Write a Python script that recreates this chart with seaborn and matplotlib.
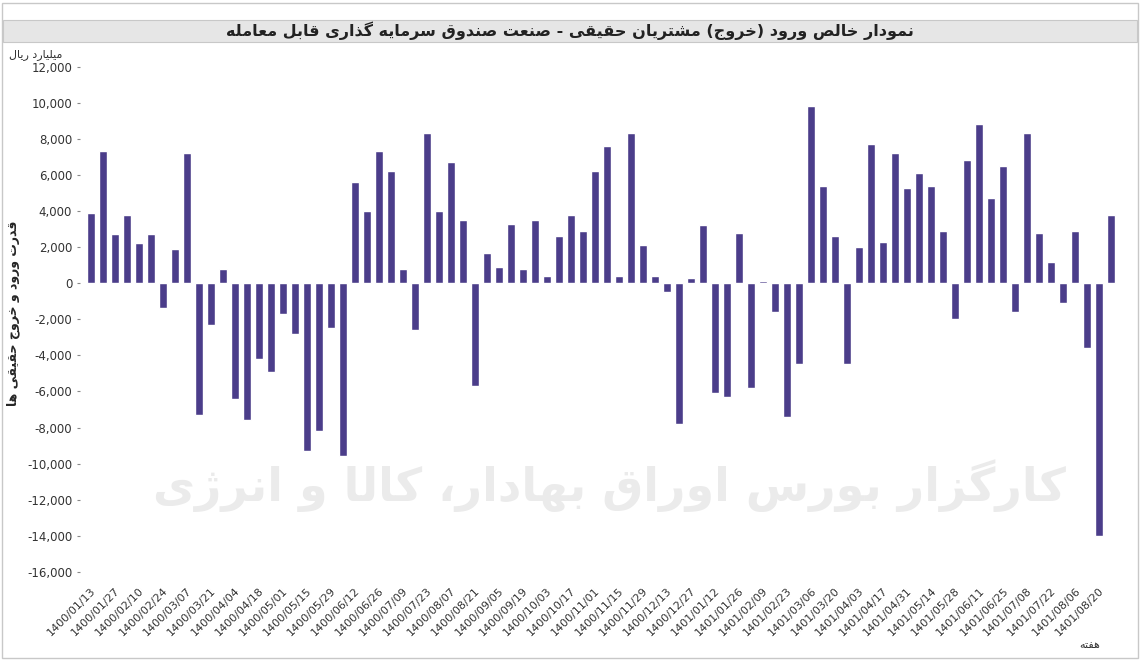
import unicodedata
import pandas as pd
import seaborn as sns
from matplotlib import pyplot as plt
from matplotlib.patches import Rectangle

values = [3900, 7300, 2700, 3800, 2200, 2700, -1400, 1900, 7200, -7300,
          -2300, 800, -6400, -7600, -4200, -4900, -1700, -2800, -9300, -8200,
          -2500, -9600, 5600, 4000, 7300, 6200, 800, -2600, 8300, 4000,
          6700, 3500, -5700, 1700, 900, 3300, 800, 3500, 400, 2600,
          3800, 2900, 6200, 7600, 400, 8300, 2100, 400, -500, -7800,
          300, 3200, -6100, -6300, 2800, -5800, 100, -1600, -7400, -4500,
          9800, 5400, 2600, -4500, 2000, 7700, 2300, 7200, 5300, 6100,
          5400, 2900, -2000, 6800, 8800, 4700, 6500, -1600, 8300, 2800,
          1200, -1100, 2900, -3600, -14000, 3800]
tick_labels = ['1400/01/13', '1400/01/27', '1400/02/10', '1400/02/24', '1400/03/07',
               '1400/03/21', '1400/04/04', '1400/04/18', '1400/05/01', '1400/05/15',
               '1400/05/29', '1400/06/12', '1400/06/26', '1400/07/09', '1400/07/23',
               '1400/08/07', '1400/08/21', '1400/09/05', '1400/09/19', '1400/10/03',
               '1400/10/17', '1400/11/01', '1400/11/15', '1400/11/29', '1400/12/13',
               '1400/12/27', '1401/01/12', '1401/01/26', '1401/02/09', '1401/02/23',
               '1401/03/06', '1401/03/20', '1401/04/03', '1401/04/17', '1401/04/31',
               '1401/05/14', '1401/05/28', '1401/06/11', '1401/06/25', '1401/07/08',
               '1401/07/22', '1401/08/06', '1401/08/20']
yticks = list(range(-16000, 12001, 2000))

# minimal arabic shaping, since matplotlib does not join letters
FORMS = {}
for rng in (range(0xFB50, 0xFE00), range(0xFE70, 0xFF00)):
    for cp in rng:
        d = unicodedata.decomposition(chr(cp)).split()
        if len(d) == 2 and d[0] in ('<isolated>', '<initial>', '<medial>', '<final>'):
            FORMS.setdefault(chr(int(d[1], 16)), {})[d[0][1:-1]] = chr(cp)
RIGHT_ONLY = set('اآأإدذرزژوؤة')


def shape(text):
    out = []
    for i, ch in enumerate(text):
        if ch not in FORMS:
            out.append(ch)
            continue
        prev = text[i - 1] if i > 0 else ''
        nxt = text[i + 1] if i + 1 < len(text) else ''
        jp = prev in FORMS and prev not in RIGHT_ONLY
        jn = nxt in FORMS and ch not in RIGHT_ONLY
        f = FORMS[ch]
        key = 'medial' if jp and jn else 'final' if jp else 'initial' if jn else 'isolated'
        out.append(f.get(key) or f.get('isolated') or ch)
    mirror = {'(': ')', ')': '('}
    return ''.join(mirror.get(c, c) for c in reversed(out))


df = pd.DataFrame({'week': range(len(values)), 'value': values})

sns.set_style('white')
plt.rcParams['font.family'] = ['DejaVu Sans', 'Noto Sans']

fig = plt.figure(figsize=(11.4, 6.61), dpi=100)
fig.patch.set_facecolor('white')
ax = fig.add_axes([0.07, 0.121, 0.911, 0.811])
ax.set_facecolor('none')

# header bar and frame
fig.add_artist(Rectangle((0.003, 0.937), 0.994, 0.033, transform=fig.transFigure,
                         facecolor='#e6e6e6', edgecolor='#c8c8c8', lw=0.8))
fig.add_artist(Rectangle((0.002, 0.005), 0.996, 0.99, transform=fig.transFigure,
                         facecolor='none', edgecolor='#c8c8c8', lw=1))
fig.text(0.5, 0.953, shape('نمودار خالص ورود (خروج) مشتریان حقیقی - صنعت صندوق سرمایه گذاری قابل معامله'),
         ha='center', va='center', fontsize=11.5, fontweight='bold', color='#222222')

# watermark
fig.text(0.535, 0.265, shape('کارگزار بورس اوراق بهادار، کالا و انرژی'), ha='center', va='center',
         fontsize=33, fontweight='bold', color='#ebebeb', zorder=0)

sns.barplot(data=df, x='week', y='value', color='#4b3d8a', saturation=1,
            width=0.68, ax=ax, zorder=3)

ax.set_ylim(-16500, 13200)
ax.set_xlim(-0.9, len(values) - 0.4)
ax.set_yticks(yticks)
ax.set_yticklabels([f'{v:,}' for v in yticks], fontsize=8.5, color='#333333')
ax.set_xticks(range(0, len(values), 2))
ax.set_xticklabels(tick_labels, rotation=45, ha='right', rotation_mode='anchor',
                   fontsize=8, color='#333333')
ax.tick_params(axis='y', length=2, color='#888888', left=True)
ax.tick_params(axis='x', length=0, pad=3)
for s in ax.spines.values():
    s.set_visible(False)
ax.set_xlabel('')
ax.set_ylabel(shape('قدرت ورود و خروج حقیقی ها'), fontsize=9, fontweight='bold')
ax.yaxis.set_label_coords(-0.058, 0.5)

fig.text(0.008, 0.918, shape('میلیارد ریال'), fontsize=8, color='#333333', va='center')
fig.text(0.965, 0.024, shape('هفته'), fontsize=8, color='#333333', va='center', ha='right')

fig.savefig('out.png', dpi=100)
